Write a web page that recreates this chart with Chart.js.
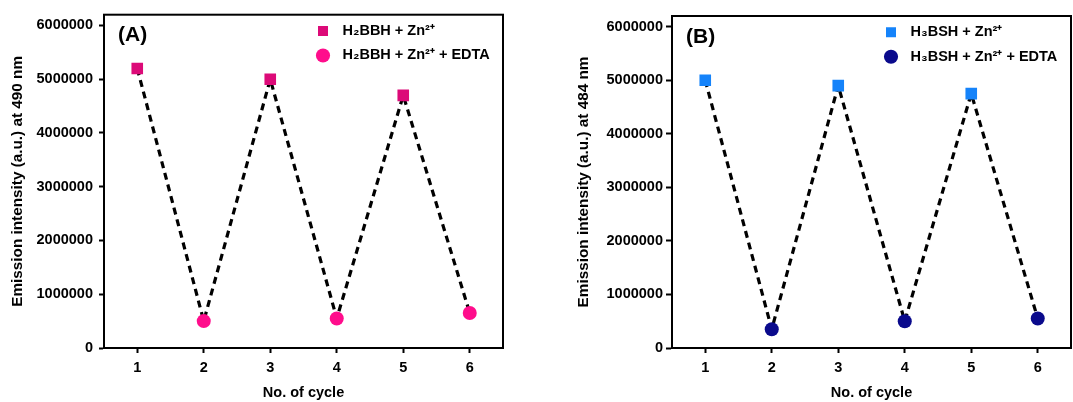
<!DOCTYPE html>
<html>
<head>
<meta charset="utf-8">
<script src="https://cdn.jsdelivr.net/npm/chart.js@4.4.0/dist/chart.umd.min.js"></script>
<style>
  body { margin: 0; background: #fff; }
  canvas { position: absolute; top: 0; }
  #chartA { left: 0; }
  #chartB { left: 540px; }
</style>
</head>
<body>
<canvas id="chartA" width="540" height="402"></canvas>
<canvas id="chartB" width="533" height="402"></canvas>
<script>
let cycles = ['1', '2', '3', '4', '5', '6']
let yTicks = [0, 1000000, 2000000, 3000000, 4000000, 5000000, 6000000]

// panel A (H2BBH)
let bbhZn = [5200000, null, 5000000, null, 4700000, null]
let bbhEdta = [null, 500000, null, 550000, null, 650000]
// panel B (H3BSH)
let bshZn = [5000000, null, 4900000, null, 4750000, null]
let bshEdta = [null, 350000, null, 500000, null, 550000]

Chart.defaults.font.family = '"Liberation Sans", Arial, sans-serif'
Chart.defaults.font.size = 14.5
Chart.defaults.font.weight = 'bold'
Chart.defaults.color = '#000'
Chart.defaults.animation = false

// box frame, panel letter, legend moved to top right corner of plot
let panelPlugin = {
  id: 'panel',
  afterLayout(chart) {
    let area = chart.chartArea
    let lg = chart.legend
    let pad = lg.options.labels.padding
    lg.left = area.right - 185 - pad
    lg.right = area.right
    lg.top = area.top + 16 - pad - 7
    lg.bottom = area.bottom
  },
  afterDraw(chart, args, opts) {
    let ctx = chart.ctx
    let area = chart.chartArea
    ctx.save()
    ctx.strokeStyle = '#000'
    ctx.lineWidth = 2
    ctx.strokeRect(area.left, area.top, area.right - area.left, area.bottom - area.top)
    ctx.fillStyle = '#000'
    ctx.font = 'bold 21px "Liberation Sans", Arial, sans-serif'
    ctx.textBaseline = 'middle'
    ctx.fillText(opts.label, area.left + 14, area.top + 21)
    ctx.restore()
  }
}

function makeChart(id, letter, yTitle, onLabel, offLabel, onData, offData, onColor, offColor, axis) {
  let lineData = cycles.map((c, i) => onData[i] ?? offData[i])
  return new Chart(document.getElementById(id), {
    type: 'line',
    data: {
      labels: cycles,
      datasets: [{
        label: onLabel,
        data: onData,
        showLine: false,
        pointStyle: 'rect',
        pointRadius: 8.2,
        pointBorderWidth: 0,
        borderWidth: 0,
        backgroundColor: onColor,
        borderColor: onColor
      },
      {
        label: offLabel,
        data: offData,
        showLine: false,
        pointStyle: 'circle',
        pointRadius: 7,
        pointBorderWidth: 0,
        borderWidth: 0,
        backgroundColor: offColor,
        borderColor: offColor
      },
      {
        label: 'cycle',
        data: lineData,
        borderColor: '#000',
        borderWidth: 3.2,
        borderDash: [7, 5],
        pointRadius: 0,
        fill: false
      }]
    },
    options: {
      responsive: false,
      layout: { autoPadding: false, padding: { left: 0, top: axis.top, right: axis.right, bottom: 0 } },
      plugins: {
        panel: { label: letter },
        tooltip: { enabled: false },
        legend: {
          position: 'chartArea',
          align: 'start',
          labels: {
            usePointStyle: true,
            boxWidth: 10,
            boxHeight: 10,
            padding: 10,
            color: '#000',
            font: { size: 14.5, weight: 'bold' },
            filter: item => item.datasetIndex < 2,
            generateLabels: chart => Chart.defaults.plugins.legend.labels.generateLabels(chart)
              .map(l => Object.assign(l, { text: '\u2002' + l.text }))
          }
        }
      },
      scales: {
        x: {
          type: 'category',
          offset: true,
          grid: { drawOnChartArea: false, drawTicks: true, tickLength: 5, tickWidth: 2, tickColor: '#000', offset: false },
          border: { display: true, color: '#000', width: 2 },
          ticks: { padding: 6, color: '#000' },
          title: { display: true, text: 'No. of cycle', color: '#000', padding: { top: 0, bottom: 0 } },
          afterFit(s) {
            s.height = 54
            s.paddingLeft = 0
            s.paddingRight = 0
          }
        },
        y: {
          min: 0,
          max: 6200000,
          afterBuildTicks(s) { s.ticks = yTicks.map(v => ({ value: v })) },
          grid: { drawOnChartArea: false, drawTicks: true, tickLength: axis.tickLen, tickWidth: 2, tickColor: '#000' },
          border: { display: true, color: '#000', width: 2 },
          ticks: { padding: axis.tickPad, color: '#000', callback: v => String(v) },
          title: { display: true, text: yTitle, color: '#000', font: { size: 15.3, weight: 'bold' }, padding: { top: axis.titlePad, bottom: 0 } },
          afterFit(s) { s.width = axis.width }
        }
      }
    },
    plugins: [panelPlugin]
  })
}

makeChart('chartA', '(A)', 'Emission intensity (a.u.) at 490 nm',
  'H₂BBH + Zn²⁺', 'H₂BBH + Zn²⁺ + EDTA', bbhZn, bbhEdta, '#DC0A78', '#FF0D8C',
  { width: 104, top: 13, right: 37, tickPad: 6, tickLen: 5, titlePad: 9 })

makeChart('chartB', '(B)', 'Emission intensity (a.u.) at 484 nm',
  'H₃BSH + Zn²⁺', 'H₃BSH + Zn²⁺ + EDTA', bshZn, bshEdta, '#1583FA', '#0A0A8C',
  { width: 132, top: 16, right: 2, tickPad: 3, tickLen: 6, titlePad: 35 })
</script>
</body>
</html>
